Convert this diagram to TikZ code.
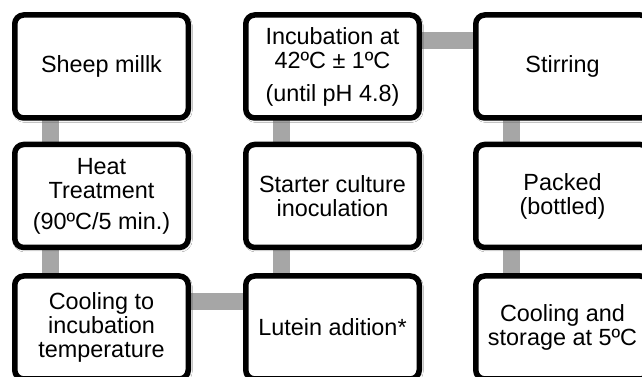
\documentclass[tikz,border=0pt]{standalone}
\usepackage{fontspec}
\setmainfont{Liberation Sans}
\usetikzlibrary{shadows.blur}
\tikzset{
  stepbox/.style={draw=black, line width=5.5pt, rounded corners=9pt, fill=white,
    minimum width=173.5pt, minimum height=103pt, inner sep=0pt, align=center,
    font=\fontsize{23.4}{24}\selectfont,
    blur shadow={shadow xshift=1pt, shadow yshift=-1.5pt, shadow blur radius=3pt, shadow opacity=30}},
  conn/.style={draw=black!35, line width=17pt}
}
\begin{document}
\begin{tikzpicture}[x=1pt,y=1pt]
\useasboundingbox (0,0) rectangle (642,377);
\clip (0,0) rectangle (642,377);
\fill[white] (0,0) rectangle (642,377);
% node centres (without drawing) for connectors
\coordinate (c1) at (101.5,310.5);
\coordinate (c2) at (101.5,181);
\coordinate (c3) at (101.5,49.5);
\coordinate (c4) at (332.5,49.5);
\coordinate (c5) at (332.5,181);
\coordinate (c6) at (332.5,310.5);
\coordinate (c7) at (562.5,310.5);
\coordinate (c8) at (562.5,181);
\coordinate (c9) at (562.5,49.5);
% connectors (behind boxes)
\draw[conn] ([xshift=-51.5pt]c1) -- ([xshift=-51.5pt]c2);
\draw[conn] ([xshift=-51.5pt]c2) -- ([xshift=-51.5pt]c3);
\draw[conn] ([yshift=26pt]c3) -- ([yshift=26pt]c4);
\draw[conn] ([xshift=-51.5pt]c4) -- ([xshift=-51.5pt]c5);
\draw[conn] ([xshift=-51.5pt]c5) -- ([xshift=-51.5pt]c6);
\draw[conn] ([yshift=25.5pt]c6) -- ([yshift=25.5pt]c7);
\draw[conn] ([xshift=-51.5pt]c7) -- ([xshift=-51.5pt]c8);
\draw[conn] ([xshift=-51.5pt]c8) -- ([xshift=-51.5pt]c9);
% boxes
\node[stepbox] (b1) at (c1) {Sheep millk};
\node[stepbox] (b2) at (c2) {Heat\\Treatment\\[7pt](90ºC/5 min.)};
\node[stepbox] (b3) at (c3) {Cooling to\\incubation\\temperature};
\node[stepbox] (b4) at (c4) {Lutein adition*};
\node[stepbox] (b5) at (c5) {Starter culture\\inoculation};
\node[stepbox] (b6) at (c6) {Incubation at\\42ºC ± 1ºC\\[9pt](until pH 4.8)};
\node[stepbox] (b7) at (c7) {Stirring};
\node[stepbox] (b8) at (c8) {Packed\\(bottled)};
\node[stepbox] (b9) at (c9) {Cooling and\\storage at 5ºC};
\end{tikzpicture}
\end{document}
